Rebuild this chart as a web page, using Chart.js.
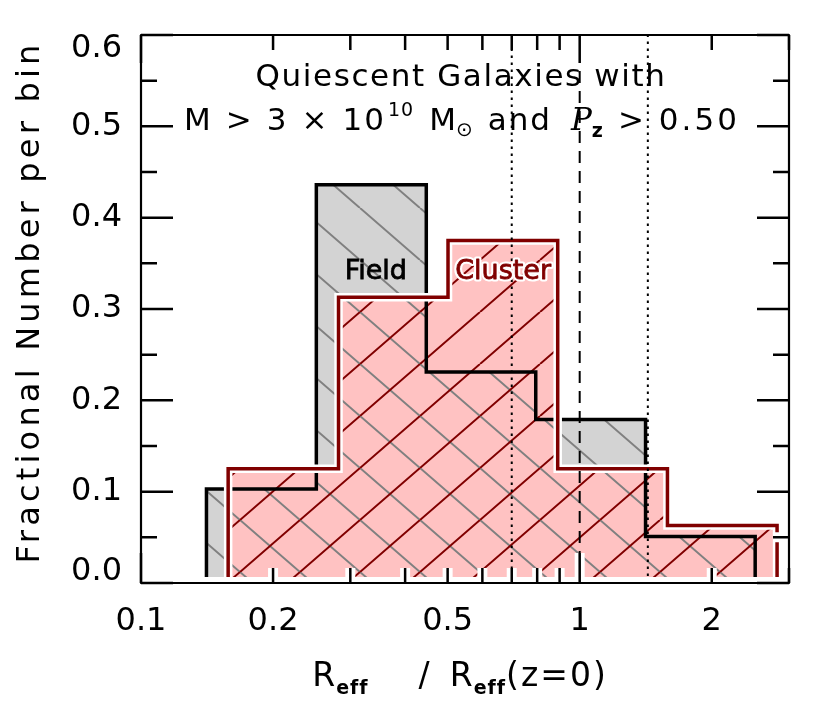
<!DOCTYPE html>
<html>
<head>
<meta charset="utf-8">
<script src="https://cdn.jsdelivr.net/npm/chart.js@4.4.1/dist/chart.umd.min.js"></script>
<style>
  html, body { margin: 0; padding: 0; background: #fff; }
  canvas { display: block; }
</style>
</head>
<body>
<canvas id="sizeChart" width="830" height="703"></canvas>
<script>
// bin edges (0.25 dex wide) and fractional number per bin
const fieldEdges = [0.141, 0.251, 0.447, 0.794, 1.413, 2.512];
const fieldValues = [0.103, 0.436, 0.231, 0.179, 0.051];
const clusterEdges = [0.158, 0.282, 0.501, 0.891, 1.585, 2.818];
const clusterValues = [0.125, 0.313, 0.375, 0.125, 0.063];

// reference lines
const dashedAt = [1.0];
const dottedAt = [0.7, 1.43];

// ticks
const xTickLabels = [0.1, 0.2, 0.5, 1, 2];
const xMinorTicks = [0.2, 0.3, 0.4, 0.5, 0.6, 0.7, 0.8, 0.9, 2, 3];
const xMajorTicks = [0.1, 1];
const yTickLabels = [0, 0.1, 0.2, 0.3, 0.4, 0.5, 0.6];
const yMinorTicks = [0.05, 0.15, 0.25, 0.35, 0.45, 0.55];

const FONT = "'DejaVu Sans', sans-serif";
const DARKRED = '#800000';

// build the closed step outline of a histogram
function stepPoints(edges, values) {
    const pts = [{ x: edges[0], y: 0 }];
    values.forEach((v, i) => {
        pts.push({ x: edges[i], y: v });
        pts.push({ x: edges[i + 1], y: v });
    });
    pts.push({ x: edges[edges.length - 1], y: 0 });
    return pts;
}

// diagonal hatch pattern, dir 1 = '/', -1 = '\'
function hatch(color, dir) {
    const w = 60, h = 52;
    const c = document.createElement('canvas');
    c.width = w; c.height = h;
    const g = c.getContext('2d');
    g.strokeStyle = color;
    g.lineWidth = 2;
    g.beginPath();
    for (let k = -1; k <= 1; k++) {
        if (dir > 0) {
            g.moveTo(k * w, h); g.lineTo(k * w + w, 0);
        } else {
            g.moveTo(k * w, 0); g.lineTo(k * w + w, h);
        }
    }
    // extend lines past the tile so the joins are seamless
    g.stroke();
    return g.createPattern(c, 'repeat');
}

const fieldPts = stepPoints(fieldEdges, fieldValues);
const clusterPts = stepPoints(clusterEdges, clusterValues);
const clear = 'rgba(0,0,0,0)';

function area(data, bg, order) {
    return { data, fill: 'origin', backgroundColor: bg, borderColor: clear, borderWidth: 1, order };
}
function outline(data, color, width, order, dash) {
    return { data, fill: false, borderColor: color, borderWidth: width, borderDash: dash || [],
             borderJoinStyle: 'miter', borderCapStyle: 'butt', order };
}
function vline(x, dash, order) {
    return outline([{ x, y: 0 }, { x, y: 0.6 }], '#000', 2, order, dash);
}

const datasets = [
    area(fieldPts, '#d3d3d3', 20),
    area(clusterPts, '#ffc2c2', 19),
    area(fieldPts, hatch('#808080', -1), 18),
    area(clusterPts, hatch(DARKRED, 1), 17),
    outline(fieldPts, '#000', 3.5, 16),
    outline(clusterPts, '#fff', 8.5, 15),
    outline(clusterPts, DARKRED, 3.5, 14)
];
dottedAt.forEach((x, i) => datasets.push(vline(x, [2.5, 4.5], 5 + i)));
dashedAt.forEach((x, i) => datasets.push(vline(x, [12, 8], 3 + i)));

// text drawn as runs (for super/subscripts)
function drawRuns(ctx, runs, cx, baseline) {
    let total = 0;
    runs.forEach(r => {
        ctx.font = r.font;
        ctx.letterSpacing = (r.ls || 0) + 'px';
        r.w = ctx.measureText(r.t).width + (r.gap || 0);
        total += r.w;
    });
    let x = cx - total / 2;
    runs.forEach(r => {
        ctx.font = r.font;
        ctx.letterSpacing = (r.ls || 0) + 'px';
        ctx.fillStyle = r.color || '#000';
        ctx.textAlign = 'left';
        ctx.textBaseline = 'alphabetic';
        ctx.fillText(r.t, x, baseline + (r.dy || 0));
        x += r.w;
    });
    ctx.letterSpacing = '0px';
}

const framePlugin = {
    id: 'frame',
    afterDatasetsDraw(chart) {
        const { ctx, chartArea: a, scales: { x, y } } = chart;
        ctx.save();
        // white strip along the bottom axis
        ctx.fillStyle = '#fff';
        ctx.fillRect(a.left, a.bottom - 6, a.right - a.left, 6);

        // Field / Cluster labels
        ctx.font = '27px ' + FONT;
        ctx.textAlign = 'center';
        ctx.textBaseline = 'middle';
        const fx = x.getPixelForValue(0.343), cx = x.getPixelForValue(0.669), ly = y.getPixelForValue(0.34);
        ctx.fillStyle = '#000';
        ctx.strokeStyle = '#000';
        ctx.lineWidth = 0.8;
        ctx.fillText('Field', fx, ly);
        ctx.strokeText('Field', fx, ly);
        ctx.lineWidth = 5;
        ctx.lineJoin = 'round';
        ctx.strokeStyle = '#fff';
        ctx.strokeText('Cluster', cx, ly);
        ctx.fillStyle = DARKRED;
        ctx.strokeStyle = DARKRED;
        ctx.lineWidth = 0.8;
        ctx.fillText('Cluster', cx, ly);
        ctx.strokeText('Cluster', cx, ly);

        // ticks on all four sides, with a white halo
        const segs = [];
        xMinorTicks.forEach(v => {
            const px = x.getPixelForValue(v);
            segs.push([px, a.bottom, px, a.bottom - 15], [px, a.top, px, a.top + 15]);
        });
        xMajorTicks.forEach(v => {
            const px = x.getPixelForValue(v);
            segs.push([px, a.bottom, px, a.bottom - 30], [px, a.top, px, a.top + 28]);
        });
        yTickLabels.forEach(v => {
            const py = y.getPixelForValue(v);
            segs.push([a.left, py, a.left + 32, py], [a.right, py, a.right - 32, py]);
        });
        yMinorTicks.forEach(v => {
            const py = y.getPixelForValue(v);
            segs.push([a.left, py, a.left + 16, py], [a.right, py, a.right - 16, py]);
        });
        [['#fff', 10], ['#000', 2.5]].forEach(([col, w]) => {
            ctx.strokeStyle = col;
            ctx.lineWidth = w;
            ctx.lineCap = 'butt';
            ctx.beginPath();
            segs.forEach(s => { ctx.moveTo(s[0], s[1]); ctx.lineTo(s[2], s[3]); });
            ctx.stroke();
        });

        // frame
        ctx.strokeStyle = '#000';
        ctx.lineWidth = 2.2;
        ctx.strokeRect(a.left, a.top, a.right - a.left, a.bottom - a.top);
        ctx.restore();
    },
    afterDraw(chart) {
        const { ctx, chartArea: a, scales: { y } } = chart;
        ctx.save();
        // y tick labels (end labels kept inside the frame)
        ctx.font = '32px ' + FONT;
        ctx.fillStyle = '#000';
        ctx.textAlign = 'right';
        ctx.textBaseline = 'middle';
        yTickLabels.forEach(v => {
            const py = Math.min(Math.max(y.getPixelForValue(v), a.top + 14), a.bottom - 11);
            ctx.fillText(v.toFixed(1), 122, py);
        });

        // y axis title
        ctx.save();
        ctx.translate(31, 302);
        ctx.rotate(-Math.PI / 2);
        ctx.font = '32px ' + FONT;
        ctx.letterSpacing = '4.2px';
        ctx.textAlign = 'center';
        ctx.textBaseline = 'middle';
        ctx.fillText('Fractional Number per bin', 0, 0);
        ctx.restore();

        // x axis title
        const base = '33px ' + FONT;
        const sub = 'bold 19px ' + FONT;
        drawRuns(ctx, [
            { t: 'R', font: base, ls: 1 },
            { t: 'eff', font: sub, dy: 8, ls: 1, gap: 50 },
            { t: '/', font: base, gap: 20 },
            { t: 'R', font: base, ls: 1 },
            { t: 'eff', font: sub, dy: 8, ls: 1 },
            { t: '(z=0)', font: base, ls: 2 }
        ], 460, 686);

        // in-plot title
        const tf = '31px ' + FONT;
        const g = 15;
        drawRuns(ctx, [{ t: 'Quiescent Galaxies with', font: tf, ls: 1.6 }], 461, 86);
        drawRuns(ctx, [
            { t: 'M', font: tf, gap: g },
            { t: '>', font: tf, gap: g },
            { t: '3', font: tf, gap: g },
            { t: '×', font: tf, gap: g },
            { t: '10', font: tf, ls: 2, gap: 2 },
            { t: '10', font: '19px ' + FONT, dy: -14, ls: 1, gap: g },
            { t: 'M', font: tf },
            { t: '⊙', font: '20px ' + FONT, dy: 6, gap: g },
            { t: 'and', font: tf, ls: 2, gap: g + 4 },
            { t: 'P', font: 'italic 31px "DejaVu Serif", serif' },
            { t: 'z', font: 'bold 19px ' + FONT, dy: 7, gap: g },
            { t: '>', font: tf, gap: g },
            { t: '0.50', font: tf, ls: 3 }
        ], 462, 130);
        ctx.restore();
    }
};

new Chart(document.getElementById('sizeChart').getContext('2d'), {
    type: 'line',
    data: { datasets },
    plugins: [framePlugin],
    options: {
        responsive: false,
        animation: false,
        devicePixelRatio: 1,
        layout: { padding: { top: 35, right: 41, bottom: 0, left: 0 } },
        elements: { point: { radius: 0, hoverRadius: 0 }, line: { tension: 0 } },
        plugins: { legend: { display: false }, tooltip: { enabled: false } },
        scales: {
            x: {
                type: 'logarithmic',
                min: 0.1,
                max: 3.0,
                grid: { display: false, drawTicks: false },
                border: { display: false },
                ticks: {
                    font: { family: FONT, size: 32 },
                    color: '#000',
                    padding: 19,
                    maxRotation: 0,
                    autoSkip: false,
                    callback: v => String(v)
                },
                afterBuildTicks: s => { s.ticks = xTickLabels.map(v => ({ value: v })); },
                afterFit: s => { s.height = 120; }
            },
            y: {
                min: 0,
                max: 0.6,
                grid: { display: false, drawTicks: false },
                border: { display: false },
                ticks: { display: false, stepSize: 0.1 },
                afterFit: s => { s.width = 141; }
            }
        }
    }
});
</script>
</body>
</html>
